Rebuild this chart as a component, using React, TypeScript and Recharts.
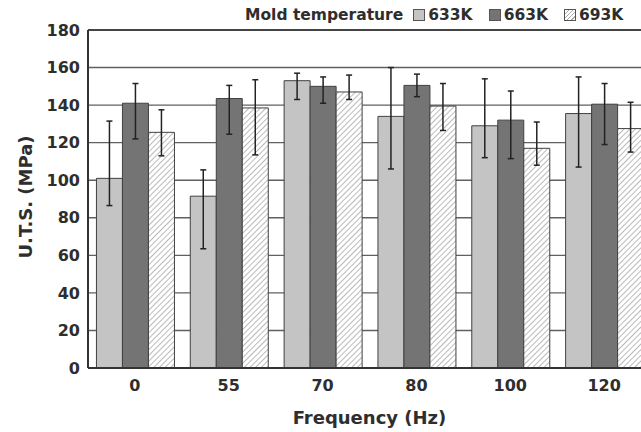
import React from 'react';
import {
    BarChart, Bar, ErrorBar, XAxis, YAxis, CartesianGrid, ReferenceLine, Label
} from 'recharts';

// Frequency groups (Hz)
const FREQUENCIES = ['0', '55', '70', '80', '100', '120'];

// U.T.S. (MPa) per mold temperature
const UTS_633K = [101, 91.5, 153, 134, 129, 135.5];
const UTS_663K = [141, 143.5, 150, 150.5, 132, 140.5];
const UTS_693K = [125.5, 138.5, 147, 139.5, 117, 127.5];

// error bars as [minus, plus]
const ERR_633K = [[14.5, 30.5], [28, 14], [10, 4], [28, 26], [17, 25], [28.5, 19.5]];
const ERR_663K = [[19, 10.5], [19, 7], [9, 5], [6, 6], [20.5, 15.5], [21.5, 11]];
const ERR_693K = [[12.5, 12], [25, 15], [4, 9], [13, 12], [9, 14], [12.5, 14]];

const Y_TICKS = [0, 20, 40, 60, 80, 100, 120, 140, 160, 180];

const data = FREQUENCIES.map((f, i) => ({
    freq: f,
    k633: UTS_633K[i],
    k663: UTS_663K[i],
    k693: UTS_693K[i],
    e633: ERR_633K[i],
    e663: ERR_663K[i],
    e693: ERR_693K[i],
}));

const FONT = '"DejaVu Sans", Arial, sans-serif';
const TEXT = '#2e2e2e';

const swatch = (bg: string): React.CSSProperties => ({
    display: 'inline-block',
    width: 12,
    height: 12,
    border: '1px solid #555',
    background: bg,
    marginRight: 3,
    boxSizing: 'border-box',
});

const hatchCss = 'repeating-linear-gradient(-45deg, #fff 0px, #fff 2px, #aaa 2px, #aaa 3px)';

export default function App() {
    return (
        <div style={{ position: 'absolute', left: 0, top: 0, width: 641, height: 432, overflow: 'hidden', background: '#fff', fontFamily: FONT }}>
            {/* legend */}
            <div style={{ position: 'absolute', left: 245, top: 5, display: 'flex', alignItems: 'center', fontSize: 15.5, fontWeight: 'bold', lineHeight: '20px', color: TEXT, whiteSpace: 'nowrap' }}>
                <span>Mold temperature</span>
                <span style={{ ...swatch('#c4c4c4'), marginLeft: 10 }} />
                <span>633K</span>
                <span style={{ ...swatch('#747474'), marginLeft: 16 }} />
                <span>663K</span>
                <span style={{ ...swatch(hatchCss), marginLeft: 16 }} />
                <span>693K</span>
            </div>

            <BarChart
                width={660}
                height={432}
                data={data}
                margin={{ top: 30, right: 9, left: 0, bottom: 0 }}
                barGap={0}
                barCategoryGap="9%"
            >
                <defs>
                    <pattern id="hatch693" patternUnits="userSpaceOnUse" width={4} height={4} patternTransform="rotate(45)">
                        <rect width={4} height={4} fill="#ffffff" />
                        <line x1={0} y1={0} x2={0} y2={4} stroke="#a8a8a8" strokeWidth={1.6} />
                    </pattern>
                </defs>
                <CartesianGrid vertical={false} stroke="#606060" strokeWidth={1.4} />
                <XAxis
                    dataKey="freq"
                    height={64}
                    axisLine={{ stroke: '#333', strokeWidth: 2 }}
                    tickLine={false}
                    tickMargin={6}
                    tick={{ fill: TEXT, fontSize: 16, fontWeight: 'bold', fontFamily: FONT }}
                >
                    <Label
                        content={(props: any) => {
                            const vb = props.viewBox || { x: 88, width: 563 };
                            return (
                                <text x={vb.x + vb.width / 2} y={424} textAnchor="middle" fill={TEXT} fontSize={18} fontWeight="bold" fontFamily={FONT}>
                                    Frequency (Hz)
                                </text>
                            );
                        }}
                    />
                </XAxis>
                <YAxis
                    width={88}
                    domain={[0, 180]}
                    ticks={Y_TICKS}
                    interval={0}
                    axisLine={{ stroke: '#333', strokeWidth: 2 }}
                    tickLine={false}
                    tickMargin={2}
                    tick={{ fill: TEXT, fontSize: 16, fontWeight: 'bold', fontFamily: FONT }}
                >
                    <Label
                        content={() => (
                            <text x={32} y={197} transform="rotate(-90, 32, 197)" textAnchor="middle" fill={TEXT} fontSize={18} fontWeight="bold" fontFamily={FONT}>
                                U.T.S. (MPa)
                            </text>
                        )}
                    />
                </YAxis>
                <ReferenceLine y={180} stroke="#444" strokeWidth={2} />
                <Bar dataKey="k633" fill="#c4c4c4" stroke="#404040" strokeWidth={1} isAnimationActive={false}>
                    <ErrorBar dataKey="e633" width={3} stroke="#222" strokeWidth={1.5} isAnimationActive={false} />
                </Bar>
                <Bar dataKey="k663" fill="#747474" stroke="#404040" strokeWidth={1} isAnimationActive={false}>
                    <ErrorBar dataKey="e663" width={3} stroke="#222" strokeWidth={1.5} isAnimationActive={false} />
                </Bar>
                <Bar dataKey="k693" fill="url(#hatch693)" stroke="#404040" strokeWidth={1} isAnimationActive={false}>
                    <ErrorBar dataKey="e693" width={3} stroke="#222" strokeWidth={1.5} isAnimationActive={false} />
                </Bar>
            </BarChart>
        </div>
    );
}
